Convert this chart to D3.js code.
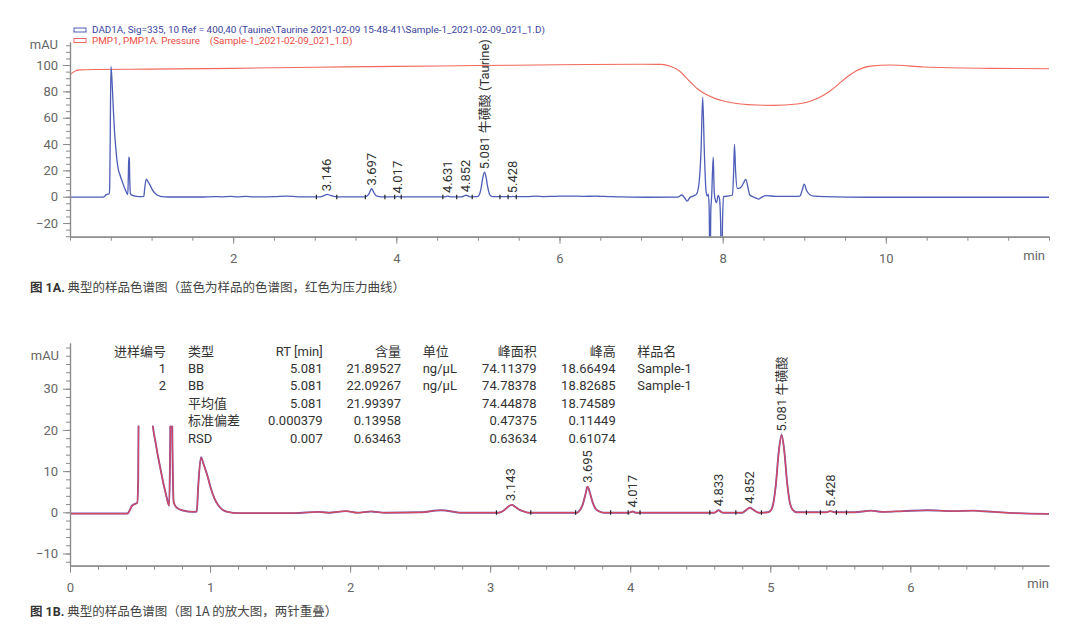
<!DOCTYPE html>
<html><head><meta charset="utf-8">
<script src="https://cdn.jsdelivr.net/npm/d3@7"></script>
<style>
html,body{margin:0;padding:0;background:#fff;}
svg{display:block;font-family:Roboto,"Noto Sans CJK SC",sans-serif;}
</style></head>
<body><svg id="c" width="1080" height="626"></svg>
<script>
// ---------------- DATA ----------------
// Figure 1A: DAD1A signal (time min, mAU)
const dadTrace = [
 [0.00,-0.3],[0.41,-0.3],[0.425,0.4],[0.44,1.4],[0.46,1.9],[0.48,2.3],[0.487,8],[0.493,45],[0.502,99],
 [0.515,88],[0.53,68],[0.545,50],[0.56,38],[0.575,28],[0.592,20.8],[0.612,16.7],[0.63,13.2],[0.647,10.3],[0.665,7.2],
 [0.683,4.6],[0.70,2.2],[0.708,1.6],[0.714,12],[0.72,30],[0.727,29],[0.733,12],[0.74,2.5],[0.76,1.2],
 [0.80,0.5],[0.88,0.1],[0.905,0.2],[0.915,6],[0.935,13.3],[0.955,11.5],[0.983,8.6],[1.005,5.8],[1.031,3.4],
 [1.055,1.9],[1.079,0.9],[1.10,0.4],[1.127,0.1],[1.2,-0.2],[1.6,-0.2],[1.77,0.1],[1.85,-0.1],[1.97,0.3],
 [2.05,-0.1],[2.15,0.2],[2.25,-0.1],[2.5,0.0],[2.65,0.5],[2.8,-0.1],[3.06,-0.1],[3.10,0.5],[3.13,1.4],
 [3.155,1.8],[3.18,1.3],[3.21,0.6],[3.25,0.1],[3.28,-0.1],[3.62,-0.1],[3.64,0.5],[3.66,1.8],[3.68,4.3],
 [3.695,6.2],[3.71,5.0],[3.73,2.6],[3.75,1.0],[3.78,0.2],[3.81,-0.1],[3.99,-0.1],[4.017,0.2],[4.04,-0.1],
 [4.60,-0.1],[4.631,0.5],[4.66,-0.1],[4.80,-0.1],[4.83,0.6],[4.855,1.1],[4.88,0.6],[4.92,-0.1],[4.98,0.0],
 [5.00,0.3],[5.02,1.9],[5.04,6.7],[5.06,14.5],[5.081,18.66],[5.10,14.8],[5.12,7.2],[5.14,2.3],[5.16,0.6],
 [5.19,0.0],[5.40,0.0],[5.428,0.3],[5.46,0.0],[5.6,0.0],[5.72,0.4],[5.8,0.1],[5.95,0.3],[6.12,0.5],
 [6.3,0.3],[6.45,0.4],[6.5,0.3],[6.6,0.1],[6.75,-0.2],[7.05,-0.4],[7.45,-0.3],[7.50,1.3],[7.535,-1],
 [7.565,-3.3],[7.60,-0.5],[7.64,0.5],[7.68,2],[7.712,11.4],[7.735,35],[7.755,75.5],[7.775,35],[7.795,5],
 [7.81,0.5],[7.825,2],[7.835,-10],[7.845,-70],[7.855,-10],[7.865,0],[7.884,30],[7.897,3],[7.91,-2.5],
 [7.925,-4.5],[7.945,1],[7.96,-1],[7.975,-20],[7.986,-70],[7.998,-20],[8.01,0],[8.06,0.5],[8.12,1.3],
 [8.135,20],[8.145,39.8],[8.158,20],[8.18,6.3],[8.21,6.5],[8.23,7.6],[8.26,11],[8.284,13.2],[8.31,7],
 [8.33,1.5],[8.37,0],[8.41,-1],[8.44,-1.8],[8.48,-0.3],[8.54,0.8],[8.65,0.3],[8.9,0.2],[8.946,0.5],
 [8.975,5],[8.999,9.6],[9.03,4.5],[9.07,1.5],[9.12,0.4],[9.25,0],[9.8,-0.4],[12.0,-0.4]
];
// Figure 1A: PMP1A pressure trace
const pressureTrace = [
 [0,92.5],[0.05,95],[0.12,96.3],[0.3,96.6],[1,96.9],[2,97.5],[3,98.3],[4,99.0],[5,99.6],[6,100.2],
 [7,100.6],[7.25,100.5],[7.35,99.2],[7.47,95.5],[7.60,87.3],[7.71,81],[7.81,77.2],[7.91,74.5],[8.01,72.7],
 [8.22,70.4],[8.42,69.6],[8.62,69.4],[8.91,70.4],[9.02,71.5],[9.11,73.4],[9.22,76.5],[9.32,80.5],
 [9.42,85.5],[9.52,90.7],[9.64,95.7],[9.81,99.2],[10.06,100],[10.47,98.5],[11.29,97.5],[12,97.2]
];
// Figure 1B: second injection (overlaid)
const injection2Trace = [
 [0.00,-0.3],[0.41,-0.3],[0.425,0.4],[0.44,1.5],[0.46,2.0],[0.48,2.3],[0.487,8],[0.493,45],[0.502,99],
 [0.515,88],[0.53,68],[0.545,50],[0.56,38],[0.575,28],[0.592,20.9],[0.612,16.8],[0.63,13.3],[0.647,10.4],[0.665,7.3],
 [0.683,4.7],[0.70,2.3],[0.708,1.6],[0.714,12],[0.72,30],[0.727,29],[0.733,12],[0.74,2.5],[0.76,1.2],
 [0.80,0.5],[0.88,0.1],[0.905,0.2],[0.915,6],[0.935,13.4],[0.955,11.6],[0.983,8.7],[1.005,5.9],[1.031,3.4],
 [1.055,1.9],[1.079,0.9],[1.10,0.4],[1.127,0.1],[1.2,-0.2],[1.6,-0.2],[1.77,0.1],[1.85,-0.1],[1.97,0.3],
 [2.05,-0.1],[2.15,0.2],[2.25,-0.1],[2.5,0.0],[2.65,0.5],[2.8,-0.1],[3.06,-0.1],[3.10,0.5],[3.13,1.4],
 [3.155,1.8],[3.18,1.3],[3.21,0.6],[3.25,0.1],[3.28,-0.1],[3.62,-0.1],[3.64,0.5],[3.66,1.8],[3.68,4.3],
 [3.695,6.2],[3.71,5.0],[3.73,2.6],[3.75,1.0],[3.78,0.2],[3.81,-0.1],[3.99,-0.1],[4.017,0.2],[4.04,-0.1],
 [4.60,-0.1],[4.631,0.5],[4.66,-0.1],[4.80,-0.1],[4.83,0.6],[4.855,1.1],[4.88,0.6],[4.92,-0.1],[4.98,0.0],
 [5.00,0.3],[5.02,1.9],[5.04,6.8],[5.06,14.6],[5.081,18.83],[5.10,14.9],[5.12,7.3],[5.14,2.3],[5.16,0.6],
 [5.19,0.0],[5.40,0.0],[5.428,0.3],[5.46,0.0],[5.6,0.0],[5.72,0.4],[5.8,0.1],[5.95,0.3],[6.12,0.5],
 [6.3,0.3],[6.45,0.4],[6.5,0.3],[6.6,0.1],[6.75,-0.2],[7.05,-0.4]
];
// Peak labels
const topPeakRT   = [3.146, 3.697, 4.017, 4.631, 4.852, 5.081, 5.428];
const topPeakText = ["3.146","3.697","4.017","4.631","4.852","5.081 牛磺酸 (Taurine)","5.428"];
const botPeakRT   = [3.143, 3.695, 4.017, 4.631, 4.852, 5.081, 5.428];
const botPeakText = ["3.143","3.695","4.017","4.833","4.852","5.081 牛磺酸","5.428"];
// Integration event marks
const topEvents = [3.02,3.27,3.62,3.86,3.98,4.06,4.57,4.74,4.93,5.27,5.37,5.47];
const botEvents = [3.045,3.29,3.61,3.86,3.985,4.07,4.568,4.754,4.937,5.258,5.358,5.472,5.544];
// Axis ticks
const topXTicks = [2,4,6,8,10];
const topYTicks = [-20,0,20,40,60,80,100];
const botXTicks = [0,1,2,3,4,5,6];
const botYTicks = [-10,0,10,20,30];
// Legend
const legendItems = [
 "DAD1A, Sig=335, 10 Ref = 400,40 (Tauine\\Taurine 2021-02-09 15-48-41\\Sample-1_2021-02-09_021_1.D)",
 "PMP1, PMP1A. Pressure    (Sample-1_2021-02-09_021_1.D)"
];
// Table
const tableHeaders = ["进样编号","类型","RT [min]","含量","单位","峰面积","峰高","样品名"];
const tableRows = [
 ["1","BB","5.081","21.89527","ng/μL","74.11379","18.66494","Sample-1"],
 ["2","BB","5.081","22.09267","ng/μL","74.78378","18.82685","Sample-1"],
 ["","平均值","5.081","21.99397","","74.44878","18.74589",""],
 ["","标准偏差","0.000379","0.13958","","0.47375","0.11449",""],
 ["","RSD","0.007","0.63463","","0.63634","0.61074",""]
];
const captionA = ["图 1A.", " 典型的样品色谱图（蓝色为样品的色谱图，红色为压力曲线）"];
const captionB = ["图 1B.", " 典型的样品色谱图（图 1A 的放大图，两针重叠）"];
const bottomClipMax = 21;

// ---------------- DRAW ----------------
const svg = d3.select("#c");
const axisColor = "#8a8a8a", labColor = "#666";

function drawAxes(g, x, y, xt, xMinorStep, yt, yMinorStep) {
  const [x0, x1] = x.domain(), [y0, y1] = y.domain();
  const yb = y.range()[0];
  const xl = x.range()[0];
  const xMinor = d3.range(Math.ceil(x0 / xMinorStep) * xMinorStep, x1 + 1e-9, xMinorStep);
  const yMinor = d3.range(Math.ceil(y0 / yMinorStep) * yMinorStep, y1 + 1e-9, yMinorStep);
  const gx = g.append("g").attr("transform", `translate(0,${yb})`);
  gx.call(d3.axisBottom(x).tickValues(xMinor).tickSize(4).tickSizeOuter(0).tickFormat(""));
  gx.append("g").call(d3.axisBottom(x).tickValues(xt).tickSize(7).tickSizeOuter(0).tickFormat(d3.format("d")));
  const gy = g.append("g").attr("transform", `translate(${xl},0)`);
  gy.call(d3.axisLeft(y).tickValues(yMinor).tickSize(4).tickSizeOuter(0).tickFormat(""));
  gy.append("g").call(d3.axisLeft(y).tickValues(yt).tickSize(7).tickSizeOuter(0).tickFormat(d3.format("d")));
  g.selectAll(".domain").attr("stroke", axisColor).attr("stroke-width", 1.2);
  g.selectAll(".tick line").attr("stroke", axisColor);
  g.selectAll(".tick text").attr("fill", labColor).attr("font-size", 13).attr("font-family", "Roboto,sans-serif");
  gx.selectAll(".tick text").attr("dy", "1.25em");
  gy.selectAll(".tick text").attr("dx", "-0.15em");
}

function peakHeight(trace, rt) {
  const pts = trace.filter(d => Math.abs(d[0] - rt) <= 0.025);
  return d3.max(pts, d => d[1]) ?? 0;
}

// ===== Top chart =====
const xT = d3.scaleLinear([0, 12], [70, 1049]);
const yT = d3.scaleLinear([-30.37, 117.5], [236.7, 42]);
const gT = svg.append("g");
svg.append("clipPath").attr("id", "clipT").append("rect")
  .attr("x", xT.range()[0]).attr("y", yT.range()[1])
  .attr("width", xT.range()[1] - xT.range()[0]).attr("height", yT.range()[0] - yT.range()[1]);

const lineT = d3.line().x(d => xT(d[0])).y(d => yT(d[1])).curve(d3.curveMonotoneX);
gT.append("path").datum(pressureTrace).attr("d", lineT).attr("fill", "none")
  .attr("stroke", "#f0695c").attr("stroke-width", 1.1).attr("clip-path", "url(#clipT)");
gT.append("path").datum(dadTrace).attr("d", lineT).attr("fill", "none")
  .attr("stroke", "#4d5db8").attr("stroke-width", 1.3).attr("clip-path", "url(#clipT)");

gT.selectAll(".evT").data(topEvents).join("line")
  .attr("x1", d => xT(d)).attr("x2", d => xT(d))
  .attr("y1", yT(0) - 2).attr("y2", yT(0) + 2.5).attr("stroke", "#222").attr("stroke-width", 1.2);

drawAxes(gT, xT, yT, topXTicks, 0.5, topYTicks, 5);
gT.append("text").attr("x", 1045).attr("y", 260).attr("text-anchor", "end")
  .attr("fill", labColor).attr("font-size", 13).text("min");
gT.append("text").attr("x", 58).attr("y", 49).attr("text-anchor", "end")
  .attr("fill", labColor).attr("font-size", 13).text("mAU");

// legend
const legColors = ["#3b41a0", "#ec4a40"];
const legStroke = ["#4d5db8", "#f0695c"];
legendItems.forEach((t, i) => {
  const yy = 30 + i * 10.5;
  gT.append("rect").attr("x", 74).attr("y", yy - 2).attr("width", 12).attr("height", 4)
    .attr("fill", "none").attr("stroke", legStroke[i]).attr("stroke-width", 1);
  gT.append("text").attr("x", 92).attr("y", yy + 3.4).attr("font-size", 9.9)
    .attr("fill", legColors[i]).attr("xml:space", "preserve").style("white-space", "pre").text(t);
});

// peak labels
topPeakRT.forEach((rt, i) => {
  const h = peakHeight(dadTrace, rt);
  gT.append("text")
    .attr("transform", `translate(${xT(rt)},${yT(h) - 3}) rotate(-90)`)
    .attr("dy", "0.35em").attr("font-size", 13).attr("fill", "#333")
    .text(topPeakText[i]);
});

// caption A
const capA = svg.append("text").attr("x", 30).attr("y", 292).attr("font-size", 12.5).attr("fill", "#444");
capA.append("tspan").attr("font-weight", "bold").attr("fill", "#333").text(captionA[0]);
capA.append("tspan").attr("font-family", "'Noto Sans CJK SC',sans-serif").text(captionA[1]);

// ===== Bottom chart =====
const xB = d3.scaleLinear([0, 6.99], [70, 1049]);
const yB = d3.scaleLinear([-12.96, 41.1], [565.7, 343]);
const gB = svg.append("g");
svg.append("clipPath").attr("id", "clipB").append("rect")
  .attr("x", xB.range()[0]).attr("y", yB(bottomClipMax))
  .attr("width", xB.range()[1] - xB.range()[0]).attr("height", yB.range()[0] - yB(bottomClipMax));

const lineB = d3.line().x(d => xB(d[0])).y(d => yB(d[1])).curve(d3.curveMonotoneX);
const dadBottom = dadTrace.filter(d => d[0] <= 7.05);
gB.append("path").datum(injection2Trace).attr("d", lineB).attr("fill", "none")
  .attr("stroke", "#7a5aae").attr("stroke-width", 1.9).attr("clip-path", "url(#clipB)");
gB.append("path").datum(dadBottom).attr("d", lineB).attr("fill", "none")
  .attr("stroke", "#d9475e").attr("stroke-width", 1.2).attr("clip-path", "url(#clipB)");

gB.selectAll(".evB").data(botEvents).join("line")
  .attr("x1", d => xB(d)).attr("x2", d => xB(d))
  .attr("y1", yB(0) - 2).attr("y2", yB(0) + 2.5).attr("stroke", "#222").attr("stroke-width", 1.2);

drawAxes(gB, xB, yB, botXTicks, 0.2, botYTicks, 2);
gB.append("text").attr("x", 1049).attr("y", 588).attr("text-anchor", "end")
  .attr("fill", labColor).attr("font-size", 13).text("min");
gB.append("text").attr("x", 59).attr("y", 360).attr("text-anchor", "end")
  .attr("fill", labColor).attr("font-size", 13).text("mAU");

botPeakRT.forEach((rt, i) => {
  const h = peakHeight(dadBottom, rt);
  gB.append("text")
    .attr("transform", `translate(${xB(rt)},${yB(h) - 4}) rotate(-90)`)
    .attr("dy", "0.35em").attr("font-size", 13).attr("fill", "#333")
    .text(botPeakText[i]);
});

// table
const colX = [166, 188, 322.7, 401, 422.7, 536.7, 615.7, 637.3];
const colAnchor = ["end", "start", "end", "end", "start", "end", "end", "start"];
const rowY0 = 355.5, rowStep = 17.45;
const tg = gB.append("g").attr("font-size", 13).attr("fill", "#333")
  .attr("font-family", "Roboto,'Noto Sans CJK SC',sans-serif");
[tableHeaders, ...tableRows].forEach((row, r) => {
  row.forEach((cell, c) => {
    if (!cell) return;
    tg.append("text").attr("x", colX[c]).attr("y", rowY0 + r * rowStep)
      .attr("text-anchor", colAnchor[c]).text(cell);
  });
});

// caption B
const capB = svg.append("text").attr("x", 30).attr("y", 616).attr("font-size", 12.5).attr("fill", "#444");
capB.append("tspan").attr("font-weight", "bold").attr("fill", "#333").text(captionB[0]);
capB.append("tspan").attr("font-family", "'Noto Sans CJK SC',sans-serif").text(captionB[1]);
</script></body></html>
